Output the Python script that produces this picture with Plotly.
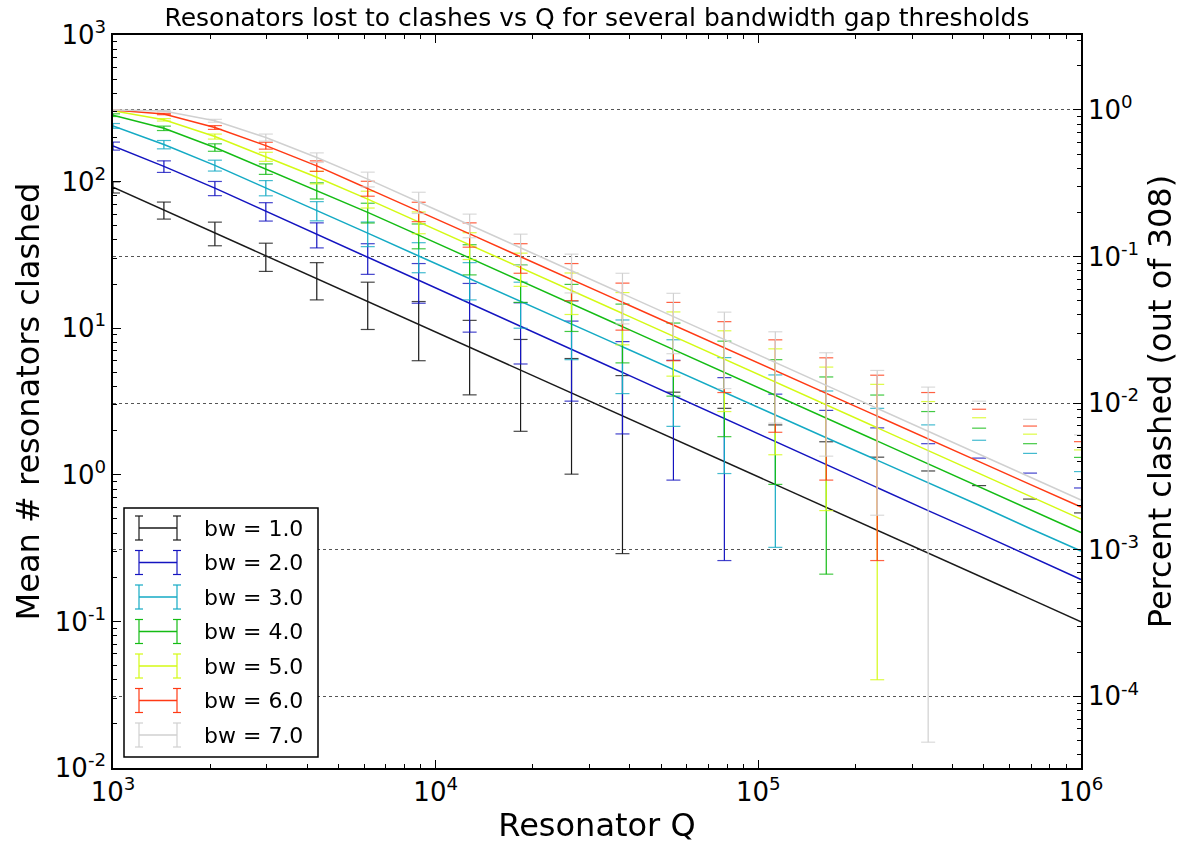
import plotly.graph_objects as go
import math

# ---------------- data ----------------
Q = [1000, 1438, 2069, 2976, 4281, 6158, 8859, 12743, 18330, 26367,
     37927, 54556, 78476, 112884, 162378, 233572, 335982, 483293, 695193, 1000000]

N_TOTAL = 308

labels = ["bw = 1.0", "bw = 2.0", "bw = 3.0", "bw = 4.0", "bw = 5.0", "bw = 6.0", "bw = 7.0"]

mean_bw1 = [91.6, 64.0, 44.7, 31.2, 21.8, 15.2, 10.6, 7.41, 5.18, 3.61,
            2.52, 1.76, 1.23, 0.859, 0.600, 0.419, 0.292, 0.204, 0.143, 0.0995]
std_bw1 = [8.0, 8.5, 8.2, 6.8, 6.2, 5.4, 4.6, 3.9, 3.2, 2.6,
           2.23, 1.9, 1.61, 1.33, 1.08, 0.90, 0.77, 0.64, 0.54, 0.45]

mean_bw2 = [175, 127, 90.2, 62.8, 43.8, 30.5, 21.2, 14.8, 10.3, 7.18,
            5.00, 3.48, 2.43, 1.69, 1.18, 0.82, 0.57, 0.40, 0.277, 0.193]
std_bw2 = [11.0, 11.5, 10.0, 9.0, 8.5, 7.2, 6.4, 5.4, 4.6, 4.0,
           3.1, 2.56, 2.17, 1.86, 1.57, 1.27, 1.06, 0.90, 0.75, 0.62]

mean_bw3 = [240, 179, 129, 90.8, 63.5, 44.5, 31.1, 21.8, 15.3, 10.7,
            7.48, 5.24, 3.66, 2.56, 1.79, 1.26, 0.88, 0.62, 0.43, 0.302]
std_bw3 = [9.0, 11.7, 11.0, 10.8, 9.5, 8.5, 7.2, 6.2, 5.3, 4.6,
           3.9, 3.1, 2.64, 2.24, 1.94, 1.58, 1.31, 1.10, 0.97, 0.75]

mean_bw4 = [284, 231, 171, 122, 87.1, 61.7, 43.1, 30.1, 21.0, 14.7,
            10.2, 7.14, 4.99, 3.48, 2.43, 1.70, 1.19, 0.83, 0.58, 0.404]
std_bw4 = [6.0, 8.0, 10.0, 10.0, 11.0, 9.5, 8.3, 7.0, 6.0, 5.2,
           4.4, 3.7, 3.17, 2.62, 2.22, 1.80, 1.51, 1.25, 1.05, 0.91]

mean_bw5 = [304, 264, 203, 148, 107, 76, 53.1, 37.1, 25.9, 18.1,
            12.6, 8.81, 6.15, 4.30, 3.00, 2.09, 1.46, 1.02, 0.713, 0.498]
std_bw5 = [3.0, 5.0, 8.0, 10.5, 10.5, 10.0, 9.0, 7.7, 6.6, 5.7,
           4.9, 4.1, 3.45, 2.93, 2.43, 2.05, 1.70, 1.43, 1.18, 0.98]

mean_bw6 = [308, 289, 234, 176, 128, 90, 62.8, 44.0, 30.7, 21.5,
            15.0, 10.5, 7.36, 5.14, 3.60, 2.52, 1.76, 1.23, 0.86, 0.603]
std_bw6 = [0.5, 3.0, 7.0, 9.5, 10.5, 10.5, 9.5, 8.3, 7.0, 6.1,
           5.3, 4.5, 3.72, 3.19, 2.68, 2.26, 1.88, 1.57, 1.29, 1.08]

mean_bw7 = [308, 303, 260, 200, 146, 104, 72.6, 50.7, 35.3, 24.7,
            17.2, 12.0, 8.37, 5.85, 4.07, 2.84, 1.99, 1.38, 0.97, 0.673]
std_bw7 = [0.5, 3.0, 6.0, 11.0, 11.0, 12.0, 12.0, 9.3, 8.5, 7.3,
           6.5, 5.3, 4.5, 3.6, 2.73, 2.31, 1.975, 1.8, 1.42, 1.2]

means = [mean_bw1, mean_bw2, mean_bw3, mean_bw4, mean_bw5, mean_bw6, mean_bw7]
stds = [std_bw1, std_bw2, std_bw3, std_bw4, std_bw5, std_bw6, std_bw7]
colors = ["#1a1a1a", "#1414c0", "#14aac4", "#14bc14", "#d4fa14", "#ff3a14", "#d0d0d0"]

left_ticks = [1e-2, 1e-1, 1e0, 1e1, 1e2, 1e3]
left_text = ["10<sup>-2</sup>", "10<sup>-1</sup>", "10<sup>0</sup>", "10<sup>1</sup>",
             "10<sup>2</sup>", "10<sup>3</sup>"]
x_ticks = [1e3, 1e4, 1e5, 1e6]
x_text = ["10<sup>3</sup>", "10<sup>4</sup>", "10<sup>5</sup>", "10<sup>6</sup>"]
right_ticks = [1e-4, 1e-3, 1e-2, 1e-1, 1e0]
right_text = ["10<sup>-4</sup>", "10<sup>-3</sup>", "10<sup>-2</sup>", "10<sup>-1</sup>",
              "10<sup>0</sup>"]

FONT = "DejaVu Sans"

# ---------------- figure ----------------
fig = go.Figure()

for lab, m, s, c in zip(labels, means, stds, colors):
    # error bar stems (only where the lower end is positive, as on a log axis)
    bx, by = [], []
    capx, capy = [], []
    for q, mv, sv in zip(Q, m, s):
        lo, hi = mv - sv, mv + sv
        capx.append(q); capy.append(hi)
        if lo > 0:
            bx += [q, q, None]; by += [lo, hi, None]
            capx.append(q); capy.append(lo)
    fig.add_trace(go.Scatter(x=Q, y=m, mode="lines", line=dict(color=c, width=1.5),
                             name=lab, showlegend=False, hoverinfo="skip"))
    fig.add_trace(go.Scatter(x=bx, y=by, mode="lines", line=dict(color=c, width=1.2),
                             showlegend=False, hoverinfo="skip", connectgaps=False))
    fig.add_trace(go.Scatter(x=capx, y=capy, mode="markers",
                             marker=dict(symbol="line-ew", size=10,
                                         line=dict(color=c, width=1.2)),
                             opacity=0.8, showlegend=False, hoverinfo="skip"))

# fraction of the total on the right-hand axis (invisible, just binds the axis)
fig.add_trace(go.Scatter(x=Q, y=[v / N_TOTAL for v in mean_bw1], yaxis="y2",
                         mode="lines", line=dict(width=0, color="rgba(0,0,0,0)"),
                         showlegend=False, hoverinfo="skip"))


def minor_vals(lo_exp, hi_exp, vmin, vmax):
    out = []
    for e in range(lo_exp, hi_exp + 1):
        for k in range(2, 10):
            v = k * 10 ** e
            if vmin < v < vmax:
                out.append(v)
    return out


ymin, ymax = 1e-2, 1e3
tickfont = dict(family=FONT, size=26, color="black")
axis_common = dict(type="log", showline=True, linecolor="black", linewidth=1.5,
                   ticks="inside", ticklen=8, tickwidth=1, tickcolor="black",
                   tickfont=tickfont, showgrid=False, zeroline=False)

fig.update_layout(
    width=1183, height=851,
    margin=dict(l=113, r=102, t=35, b=83),
    paper_bgcolor="white", plot_bgcolor="white",
    font=dict(family=FONT, color="black"),
    title=dict(text="Resonators lost to clashes vs Q for several bandwidth gap thresholds",
               font=dict(family=FONT, size=25, color="black"),
               x=(113 + 1081) / 2 / 1183, xanchor="center",
               y=1 - 17 / 851, yanchor="middle", yref="container"),
    xaxis=dict(**axis_common, range=[3, 6], mirror="ticks",
               tickmode="array", tickvals=x_ticks, ticktext=x_text,
               minor=dict(tickmode="array", tickvals=minor_vals(3, 5, 1e3, 1e6),
                          ticks="inside", ticklen=4, tickcolor="black", tickwidth=1),
               title=dict(text="Resonator Q", font=dict(family=FONT, size=32),
                          standoff=8)),
    yaxis=dict(**axis_common, range=[-2, 3], mirror=False,
               tickmode="array", tickvals=left_ticks, ticktext=left_text,
               minor=dict(tickmode="array", tickvals=minor_vals(-2, 2, ymin, ymax),
                          ticks="inside", ticklen=4, tickcolor="black", tickwidth=1),
               title=dict(text="Mean # resonators clashed", font=dict(family=FONT, size=32),
                          standoff=6)),
    yaxis2=dict(type="log", overlaying="y", side="right",
                range=[math.log10(ymin / N_TOTAL), math.log10(ymax / N_TOTAL)],
                showline=True, linecolor="black", linewidth=1.5,
                ticks="inside", ticklen=8, tickwidth=1, tickcolor="black",
                tickfont=tickfont, zeroline=False,
                tickmode="array", tickvals=right_ticks, ticktext=right_text,
                minor=dict(tickmode="array",
                           tickvals=minor_vals(-5, 0, ymin / N_TOTAL, ymax / N_TOTAL),
                           ticks="inside", ticklen=4, tickcolor="black", tickwidth=1),
                showgrid=True, gridcolor="#555555", gridwidth=1, griddash="dot",
                title=dict(text="Percent clashed (out of 308)", font=dict(family=FONT, size=32),
                           standoff=10)),
    showlegend=False,
)

# ---------------- custom legend (errorbar-style handles) ----------------
PL, PR, PT, PB = 113, 1081, 35, 768


def px_x(p):
    return (p - PL) / (PR - PL)


def px_y(p):
    return (PB - p) / (PB - PT)


shapes = [dict(type="rect", xref="paper", yref="paper",
               x0=px_x(124), x1=px_x(318), y0=px_y(757), y1=px_y(508),
               line=dict(color="black", width=1.5), fillcolor="white", layer="above")]
annotations = []
for i, (lab, c) in enumerate(zip(labels, colors)):
    cy = 528 + i * 34.5
    xl, xr = 139, 177
    shapes.append(dict(type="line", xref="paper", yref="paper", x0=px_x(xl), x1=px_x(xr),
                       y0=px_y(cy), y1=px_y(cy), line=dict(color=c, width=1.5), layer="above"))
    for xx in (xl, xr):
        shapes.append(dict(type="line", xref="paper", yref="paper", x0=px_x(xx), x1=px_x(xx),
                           y0=px_y(cy - 12), y1=px_y(cy + 12), line=dict(color=c, width=1.2),
                           layer="above"))
        for yy in (cy - 12, cy + 12):
            shapes.append(dict(type="line", xref="paper", yref="paper",
                               x0=px_x(xx - 4), x1=px_x(xx + 4), y0=px_y(yy), y1=px_y(yy),
                               line=dict(color=c, width=1.2), layer="above"))
    annotations.append(dict(xref="paper", yref="paper", x=px_x(202), y=px_y(cy),
                            xanchor="left", yanchor="middle", showarrow=False, text=lab,
                            font=dict(family=FONT, size=22, color="black")))

fig.update_layout(shapes=shapes, annotations=annotations)

fig.write_html("out.html")
